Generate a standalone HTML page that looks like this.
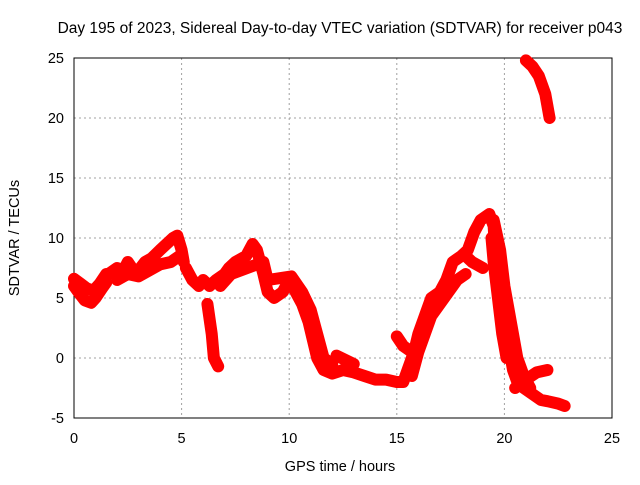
<!DOCTYPE html>
<html><head><meta charset="utf-8"><style>
body{margin:0;background:#fff;}
svg{font-family:"Liberation Sans",sans-serif;font-size:14.5px;}
</style></head><body>
<svg id="c" width="640" height="480"></svg>
<script>
const xTicks=[0,5,10,15,20,25];
const yTicks=[-5,0,5,10,15,20,25];
const traceMain=[[0,6.0],[0.2,5.5],[0.5,4.8],[0.8,4.6],[1.0,5.0],[1.3,5.8],[1.5,6.3]];
const traceMainUpper=[[0,6.6],[0.3,6.2],[0.6,5.8],[0.9,5.6],[1.2,6.2],[1.5,7.0]];
const traceMorning=[[1.6,7.0],[2.0,7.5],[2.3,7.3],[2.5,8.0],[2.8,7.2],[3.0,7.3],[3.3,8.0],[3.6,8.3],[4.0,9.0],[4.3,9.5],[4.6,10.0],[4.8,10.2],[5.0,9.0],[5.1,8.0]];
const traceMorningLower=[[2.0,6.5],[2.5,7.0],[3.0,6.8],[3.5,7.3],[4.0,7.8],[4.5,8.0],[4.9,8.5]];
const traceDay=[[5.2,7.5],[5.5,6.5],[5.8,6.0],[6.0,6.5],[6.3,6.0],[6.6,6.5],[7.0,7.0],[7.2,7.5],[7.5,8.0],[8.0,8.5],[8.3,9.5],[8.5,9.0],[8.8,7.0],[9.0,5.5],[9.3,5.0],[9.7,5.5],[10.0,6.5],[10.3,5.5],[10.6,4.5],[10.9,3.0],[11.1,1.5],[11.3,0.0],[11.6,-1.0],[12.0,-1.3],[12.5,-1.0],[13.0,-1.2],[13.5,-1.5],[14.0,-1.8],[14.5,-1.8],[15.0,-2.0],[15.3,-2.0],[15.5,-1.0],[15.8,0.5],[16.0,2.0],[16.3,3.5],[16.6,5.0],[17.0,5.5],[17.3,6.5],[17.6,8.0],[18.0,8.5],[18.3,9.0],[18.6,10.5],[18.9,11.5],[19.3,12.0],[19.5,11.0],[19.6,8.0],[19.8,5.0],[20.0,3.0],[20.2,1.0],[20.4,-1.0],[20.6,-2.0],[20.9,-2.5],[21.3,-3.0],[21.7,-3.5],[22.0,-3.6],[22.5,-3.8],[22.8,-4.0]];
const traceDayUpper=[[6.8,6.0],[7.3,7.0],[8.8,8.0],[9.0,6.5],[10.1,6.8],[10.6,5.5],[11.0,4.0],[11.3,2.0],[11.6,0.0],[12.0,-0.5]];
const traceRiseUpper=[[15.7,-1.5],[16.0,0.5],[16.3,2.0],[16.6,3.5],[17.0,4.5],[17.4,5.5],[17.8,6.5],[18.2,7.0]];
const traceFallUpper=[[19.5,11.5],[19.8,9.0],[20.0,6.0],[20.3,3.0],[20.6,0.0],[20.9,-1.5],[21.2,-2.5]];
const traceDip=[[6.2,4.5],[6.4,2.0],[6.5,0.0],[6.7,-0.7]];
const traceBranch15=[[15.0,1.8],[15.3,1.0],[15.7,0.5]];
const traceBranch21=[[20.5,-2.5],[21.0,-1.8],[21.5,-1.2],[22.0,-1.0]];
const traceTop=[[21.0,24.8],[21.3,24.3],[21.6,23.5],[21.9,22.0],[22.1,20.0]];
const traceBranch12=[[12.2,0.2],[13.0,-0.5]];
const traceBranch18=[[18.2,8.5],[18.5,8.0],[19.0,7.5]];
const traceBranch19=[[19.4,10.0],[19.5,8.0],[19.7,5.0],[19.9,2.0],[20.1,0.0]];
const traces=[traceMain,traceMainUpper,traceMorning,traceMorningLower,traceDay,traceDayUpper,traceRiseUpper,traceFallUpper,traceDip,traceBranch15,traceBranch21,traceTop,traceBranch12,traceBranch18,traceBranch19];

const X0=74,X1=612,Y0=418,Y1=58;
const sx=v=>X0+(v-0)/25*(X1-X0);
const sy=v=>Y0-(v+5)/30*(Y0-Y1);
const svg=document.getElementById('c');
const NS='http://www.w3.org/2000/svg';
function mk(t,a){const e=document.createElementNS(NS,t);for(const k in a)e.setAttribute(k,a[k]);svg.appendChild(e);return e;}

xTicks.forEach(t=>{
  if(t>0&&t<25){const g=mk('line',{x1:sx(t),x2:sx(t),y1:Y1,y2:Y0,stroke:'#a0a0a0','stroke-dasharray':'2,3'});
  
  }
  const l=mk('text',{x:sx(t),y:443,'text-anchor':'middle'});l.textContent=t;
  
  
});
yTicks.forEach(t=>{
  if(t>-5&&t<25){const g=mk('line',{x1:X0,x2:X1,y1:sy(t),y2:sy(t),stroke:'#a0a0a0','stroke-dasharray':'2,3'});
  
  }
  const l=mk('text',{x:64,y:sy(t)+5,'text-anchor':'end'});l.textContent=t;
  
  
});
const fr=mk('rect',{x:X0,y:Y1,width:X1-X0,height:Y0-Y1,fill:'none',stroke:'#000'});



traces.forEach(tr=>{
  const p=mk('polyline',{points:tr.map(d=>sx(d[0])+','+sy(d[1])).join(' '),fill:'none',stroke:'#f00','stroke-width':12,'stroke-linecap':'round','stroke-linejoin':'round'});
  
  
  tr.forEach(d=>{
    const m=mk('path',{d:`M${sx(d[0])-4},${sy(d[1])}h8M${sx(d[0])},${sy(d[1])-4}v8`,stroke:'#f00','stroke-width':2});
    
    
  });
});

const ti=mk('text',{x:340,y:33,'text-anchor':'middle','font-size':'15.5'});ti.textContent='Day 195 of 2023, Sidereal Day-to-day VTEC variation (SDTVAR) for receiver p043';


const xl=mk('text',{x:340,y:471,'text-anchor':'middle'});xl.textContent='GPS time / hours';


const yl=mk('text',{x:0,y:0,'text-anchor':'middle',transform:'translate(19,238) rotate(-90)'});yl.textContent='SDTVAR / TECUs';


</script>
</body></html>
